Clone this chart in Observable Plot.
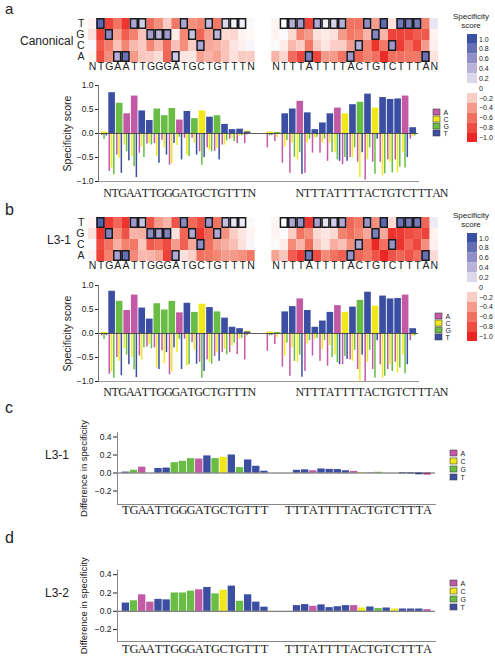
<!DOCTYPE html>
<html><head><meta charset="utf-8">
<script src="https://cdn.jsdelivr.net/npm/d3@7"></script>
<script src="https://cdn.jsdelivr.net/npm/@observablehq/plot@0.6"></script>
<style>
body{margin:0;background:#fff;}
#root{position:relative;width:495px;height:660px;overflow:hidden;font-family:"Liberation Sans",Arial,sans-serif;color:#222;}
#root svg{position:absolute;overflow:visible;}
</style></head><body><div id="root"></div>
<script>
// ---------- data ----------
const nucleotides = ["A","C","G","T"];
const nucColors = ["#c35aa6","#f1e81c","#69bd45","#3b4ea1"];
const seqLeft  = ["N","T","G","A","A","T","T","G","G","G","A","T","G","C","T","G","T","T","T","N"];
const seqRight = ["N","T","T","T","A","T","T","T","T","A","C","T","G","T","C","T","T","T","A","N"];

// panel a (Canonical) specificity scores per nucleotide
const canonLeftA = [-0.04,-0.79,-0.45,0.41,0.78,-0.41,-0.22,-0.21,-0.14,-0.66,0.28,-0.10,-0.10,-0.38,-0.30,-0.37,-0.24,-0.12,-0.21,-0.21];
const canonLeftC = [0.03,-0.72,-0.52,-0.24,-0.48,-0.28,-0.21,-0.48,-0.30,-0.62,-0.25,-0.45,-0.20,0.47,-0.35,-0.31,-0.24,-0.10,-0.06,0.05];
const canonLeftG = [-0.12,-0.86,0.63,-0.38,-0.69,-0.50,-0.24,0.51,0.37,0.52,-0.08,-0.48,0.31,-0.66,-0.38,0.37,-0.15,-0.17,-0.05,-0.03];
const canonLeftT = [-0.05,0.85,-0.83,-0.57,-0.92,0.47,0.27,-0.62,-0.45,-0.21,-0.55,0.46,-0.45,-0.50,0.34,-0.55,0.19,0.08,0.09,0.03];
const canonRightA = [-0.30,-0.17,-0.62,-0.83,0.67,-0.83,-0.41,-0.41,-0.58,0.53,-0.65,-0.50,-0.60,-0.97,-0.60,-0.60,-0.55,-0.55,0.78,-0.12];
const canonRightC = [0.03,-0.08,-0.28,-0.20,-0.55,-0.20,-0.10,-0.20,-0.20,-0.40,0.41,-0.50,-0.92,-0.55,0.53,-0.88,-0.60,-0.82,-0.40,-0.06];
const canonRightG = [-0.05,0.02,-0.15,-0.50,-0.40,-0.12,-0.08,-0.12,-0.40,-0.55,-0.50,-0.30,0.65,-0.30,-0.85,-0.84,-0.82,-0.70,-0.72,-0.05];
const canonRightT = [-0.04,0.00,0.41,0.51,-0.85,0.43,0.08,0.22,0.41,-0.58,-0.58,0.60,-0.40,0.82,-0.12,0.75,0.71,0.72,-0.50,0.12];

// panel b (L3-1)
const l31LeftA = [-0.05,-0.85,-0.50,0.48,0.80,-0.47,-0.28,-0.30,-0.36,-0.86,0.43,-0.12,-0.19,-0.60,-0.55,-0.48,-0.40,-0.40,-0.44,-0.55];
const l31LeftC = [0.02,-0.80,-0.58,-0.32,-0.50,-0.55,-0.22,-0.72,-0.63,-0.80,-0.40,-0.68,-0.35,0.61,-0.60,-0.40,-0.33,-0.26,-0.12,0.05];
const l31LeftG = [-0.12,-0.93,0.67,-0.45,-0.76,-0.30,-0.32,0.62,0.49,0.67,-0.12,-0.65,0.44,-0.93,-0.64,0.45,-0.44,-0.20,-0.10,-0.05];
const l31LeftT = [-0.04,0.88,-0.88,-0.65,-0.92,0.53,0.30,-0.75,-0.40,-0.30,-0.75,0.63,-0.64,-0.79,0.54,-0.58,0.32,0.13,0.10,0.03];
const l31RightA = [-0.37,-0.23,-0.70,-0.89,0.72,-0.79,-0.47,-0.58,-0.68,0.58,-0.65,-0.55,-0.75,-1.00,-0.75,-0.65,-0.75,-0.60,0.80,-0.15];
const l31RightC = [0.03,-0.08,-0.47,-0.30,-0.61,-0.22,-0.12,-0.33,-0.25,-0.45,0.44,-0.58,-0.99,-0.60,0.57,-0.93,-0.65,-0.82,-0.45,-0.06];
const l31RightG = [-0.05,0.02,-0.20,-0.58,-0.45,-0.15,-0.10,-0.15,-0.50,-0.61,-0.48,-0.35,0.69,-0.35,-0.93,-0.89,-0.79,-0.72,-0.84,-0.05];
const l31RightT = [-0.04,0.00,0.45,0.56,-0.91,0.48,0.13,0.26,0.44,-0.65,-0.54,0.55,-0.45,0.86,-0.15,0.78,0.72,0.73,-0.65,0.10];

// panels c, d (difference in specificity)
const diffSeqLeft  = ["T","G","A","A","T","T","G","G","G","A","T","G","C","T","G","T","T","T"];
const diffSeqRight = ["T","T","T","A","T","T","T","T","A","C","T","G","T","C","T","T","T","A"];
const diffL31Left  = [0.01,0.03,0.065,0.0,0.05,0.055,0.115,0.13,0.16,0.155,0.19,0.16,0.175,0.20,0.06,0.145,0.075,0.02];
const diffL31Right = [0.0,0.03,0.035,0.025,0.045,0.04,0.038,0.025,0.018,0.005,0.003,0.008,0.0,0.0,-0.008,-0.01,-0.02,-0.025];
const diffL32Left  = [0.09,0.115,0.18,0.10,0.13,0.125,0.20,0.20,0.22,0.235,0.26,0.19,0.23,0.275,0.11,0.18,0.10,0.045];
const diffL32Right = [0.0,0.062,0.073,0.055,0.07,0.04,0.05,0.062,0.062,0.036,0.047,0.03,0.036,0.025,0.025,0.025,0.025,0.018];

// ticks / legend values
const specTicks = [-1, -0.5, 0, 0.5, 1];
const diffTicks = [-0.2, 0, 0.2, 0.4];
const legendValues = [1.0,0.8,0.6,0.4,0.2,0,-0.2,-0.4,-0.6,-0.8,-1.0];

// ---------- helpers ----------
const sans = '"Liberation Sans", Arial, Helvetica, sans-serif';
const serif = '"Liberation Serif", "Times New Roman", serif';
const root = document.getElementById("root");
const baseStyle = {fontFamily: sans, fontSize: "10px", color: "#222", background: "none", overflow: "visible"};
function place(node, left, top) {
  node.style.left = left + "px"; node.style.top = top + "px";
  root.appendChild(node);
}
const heatColor = {type: "linear", domain: [-1,-0.5,0,0.5,1], range: ["#ec2622","#f3826e","#ffffff","#a69dd0","#3a50a3"], clamp: true};
const nucColor = {domain: nucleotides, range: nucColors};
const f1 = d3.format(".1f");

function block(seq, A, C, G, T) {
  const cols = {A, C, G, T};
  const out = [];
  seq.forEach((s, i) => nucleotides.forEach(n => out.push({pos: i, nuc: n, score: cols[n][i], cognate: n === s})));
  return out;
}

function heatmap(L, R) {
  const cells = L.map(d => ({...d, slot: d.pos})).concat(R.map(d => ({...d, slot: 22 + d.pos})));
  const letters = seqLeft.map((s, i) => ({slot: i, s})).concat(seqRight.map((s, i) => ({slot: 22 + i, s})));
  return Plot.plot({
    width: 445, height: 80, marginLeft: 88, marginRight: 7, marginTop: 16, marginBottom: 17,
    x: {domain: [0, 42], axis: null},
    y: {domain: ["T","G","C","A"], padding: 0},
    color: heatColor,
    style: baseStyle,
    marks: [
      Plot.barX(cells, {x1: "slot", x2: d => d.slot + 1, y: "nuc", fill: "score"}),
      Plot.barX(cells.filter(d => d.cognate), {x1: "slot", x2: d => d.slot + 1, y: "nuc", fill: "none", stroke: "#1b1b1b", strokeWidth: 1.5, inset: 0.75}),
      Plot.axisY({tickSize: 0, tickPadding: 4, fontSize: 10.5, label: null}),
      Plot.text(letters, {x: d => d.slot + 0.5, text: "s", frameAnchor: "bottom", dy: 6, fontSize: 10.5})
    ]
  });
}

function specBars(L, R) {
  const wide = [], thin = [];
  [[L, 0], [R, 22]].forEach(([cells, off]) => {
    const byPos = d3.group(cells, d => d.pos);
    for (const [pos, arr] of byPos) {
      let k = 0;
      arr.forEach(d => {
        if (d.score > 0) wide.push({slot: off + pos, nuc: d.nuc, v: d.score});
        else if (d.score < 0) thin.push({slot: off + pos, nuc: d.nuc, v: d.score, k: k++});
      });
    }
  });
  wide.sort((a, b) => b.v - a.v);
  return Plot.plot({
    width: 430, height: 125, marginLeft: 98, marginRight: 12, marginTop: 10, marginBottom: 19,
    x: {domain: [-0.82, 41.7], axis: null},
    y: {domain: [-1, 1]},
    color: nucColor,
    style: baseStyle,
    marks: [
      Plot.rect(wide, {x1: d => d.slot - 0.45, x2: d => d.slot + 0.43, y1: 0, y2: "v", fill: "nuc"}),
      Plot.rect(thin, {x1: d => d.slot - 0.42 + 0.3 * d.k, x2: d => d.slot - 0.22 + 0.3 * d.k, y1: 0, y2: "v", fill: "nuc"}),
      Plot.ruleY([0], {stroke: "#333", strokeWidth: 0.8}),
      Plot.frame({anchor: "bottom", stroke: "#999"}),
      Plot.frame({anchor: "left", stroke: "#777"}),
      Plot.axisY({ticks: specTicks, tickFormat: f1, tickSize: 3, tickPadding: 2, fontSize: 8.5, label: null}),
      Plot.text(["Specificity score"], {frameAnchor: "left", textAnchor: "middle", rotate: -90, dx: -31, fontSize: 10.5})
    ]
  });
}

function seqLabelPlot() {
  const labels = seqLeft.map((s, i) => ({k: i, s})).concat(seqRight.map((s, i) => ({k: 25.3 + i, s})));
  return Plot.plot({
    width: 460, height: 16, marginLeft: 0, marginRight: 0, marginTop: 0, marginBottom: 0,
    x: {domain: [0, 45.3], range: [107, 107 + 45.3 * 7.6], axis: null},
    style: baseStyle,
    marks: [Plot.text(labels, {x: "k", text: "s", fontFamily: serif, fontSize: 12})]
  });
}

function heatLegend() {
  return Plot.plot({
    width: 40, height: 120, marginLeft: 12, marginRight: 18, marginTop: 4, marginBottom: 8,
    x: {axis: null}, y: {domain: [-1.1, 1.1], axis: null},
    color: heatColor,
    style: baseStyle,
    marks: [
      Plot.rect(legendValues, {y1: d => d - 0.1, y2: d => d + 0.1, fill: d => d}),
      Plot.text(legendValues, {y: d => d, text: d => d === 0 ? "0" : f1(d), frameAnchor: "right", dx: 1.5, textAnchor: "start", fontSize: 7})
    ]
  });
}

function nucLegend(step, pad) {
  return Plot.plot({
    width: 40, height: 8 + 4 * step + 5, marginLeft: 8, marginRight: 25, marginTop: 8, marginBottom: 5,
    x: {axis: null}, y: {domain: nucleotides, padding: pad, axis: null},
    color: nucColor,
    style: baseStyle,
    marks: [
      Plot.cell(nucleotides, {y: d => d, fill: d => d, stroke: "#444", strokeWidth: 0.6}),
      Plot.text(nucleotides, {y: d => d, text: d => d, frameAnchor: "right", dx: 3, textAnchor: "start", fontSize: 7, lineHeight: 0.9})
    ]
  });
}

function diffPlot(vL, vR, height, marginTop, marginBottom, domain, labelDy) {
  const bars = diffSeqLeft.map((s, i) => ({slot: i, nuc: s, v: vL[i]}))
    .concat(diffSeqRight.map((s, i) => ({slot: 20 + i, nuc: s, v: vR[i]})));
  return Plot.plot({
    width: 445, height, marginLeft: 117, marginRight: 10, marginTop, marginBottom,
    x: {domain: [-0.58, 38.44], axis: null},
    y: {domain},
    color: nucColor,
    style: baseStyle,
    marks: [
      Plot.rect(bars, {x1: "slot", x2: d => d.slot + 0.9, y1: 0, y2: "v", fill: "nuc"}),
      Plot.ruleY([0], {stroke: "#333", strokeWidth: 0.8}),
      Plot.frame({anchor: "bottom", stroke: "#888"}),
      Plot.frame({anchor: "left", stroke: "#888"}),
      Plot.axisY({ticks: diffTicks, tickFormat: f1, tickSize: 4, tickPadding: 2, fontSize: 8.5, label: null}),
      Plot.text(bars, {x: d => d.slot + 0.45, text: "nuc", frameAnchor: "bottom", dy: labelDy, fontFamily: serif, fontSize: 12.5}),
      Plot.text(["Difference in specificity"], {frameAnchor: "left", textAnchor: "middle", rotate: -90, dx: -34, fontSize: 9.5})
    ]
  });
}

// ---------- build ----------
const aL = block(seqLeft, canonLeftA, canonLeftC, canonLeftG, canonLeftT);
const aR = block(seqRight, canonRightA, canonRightC, canonRightG, canonRightT);
const bL = block(seqLeft, l31LeftA, l31LeftC, l31LeftG, l31LeftT);
const bR = block(seqRight, l31RightA, l31RightC, l31RightG, l31RightT);

place(heatmap(aL, aR), 0, 0);
place(specBars(aL, aR), 0, 75);
place(seqLabelPlot(), 0, 185);
place(heatLegend(), 455, 30);
place(nucLegend(7.33, 0.1), 425, 100);

place(heatmap(bL, bR), 0, 199);
place(specBars(bL, bR), 0, 275);
place(seqLabelPlot(), 0, 384);
place(heatLegend(), 455, 229);
place(nucLegend(7.5, 0.12), 427, 304);

place(diffPlot(diffL31Left, diffL31Right, 105, 12, 21, [-0.35, 0.45], 9), 0, 420);
place(nucLegend(8.8, 0.2), 442, 440);
place(diffPlot(diffL32Left, diffL32Right, 102, 11.6, 19, [-0.33, 0.45], 11), 0, 558);
place(nucLegend(8.8, 0.2), 442, 570);

// free text labels
const ns = "http://www.w3.org/2000/svg";
const overlay = document.createElementNS(ns, "svg");
overlay.setAttribute("width", 495); overlay.setAttribute("height", 660);
overlay.style.left = "0px"; overlay.style.top = "0px"; overlay.style.pointerEvents = "none";
const texts = [
  ["a", 5, 14, 15, "start"], ["b", 5, 215, 16, "start"], ["c", 5, 413, 16, "start"], ["d", 5, 543, 16, "start"],
  ["Canonical", 20, 45, 12, "start"], ["L3-1", 47, 244, 12, "start"], ["L3-1", 45, 459, 12, "start"], ["L3-2", 45, 597, 12, "start"],
  ["Specificity", 471, 19, 8, "middle"], ["score", 471, 28, 8, "middle"],
  ["Specificity", 471, 218, 8, "middle"], ["score", 471, 227, 8, "middle"]
];
texts.forEach(([t, x, y, fs, anchor]) => {
  const el = document.createElementNS(ns, "text");
  el.setAttribute("x", x); el.setAttribute("y", y);
  el.setAttribute("font-size", fs); el.setAttribute("text-anchor", anchor);
  el.setAttribute("font-family", sans); el.setAttribute("fill", "#222");
  el.textContent = t;
  overlay.appendChild(el);
});
root.appendChild(overlay);
</script></body></html>
